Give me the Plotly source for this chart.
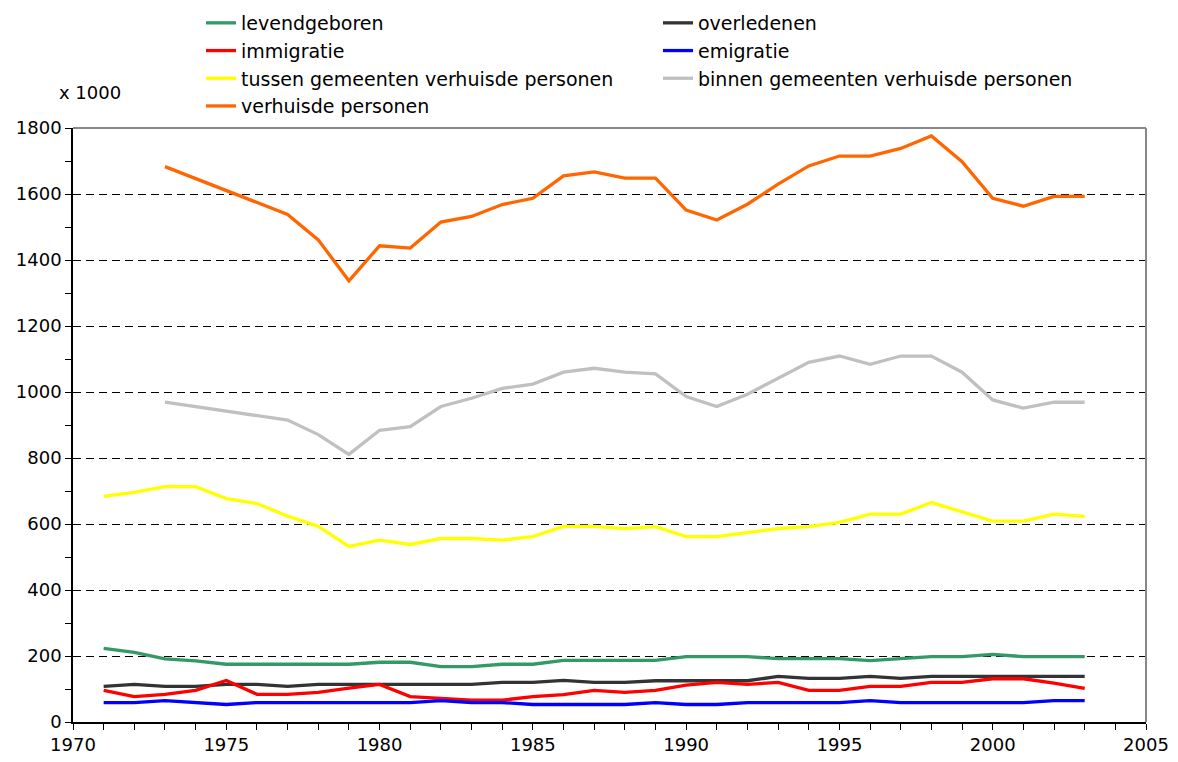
import plotly.graph_objects as go

years = list(range(1971, 2004))

levendgeboren = [223, 211, 191, 185, 175, 175, 175, 175, 175, 181, 181, 168, 168, 175, 175,
                 187, 187, 187, 187, 198, 198, 198, 192, 192, 192, 186, 192, 198, 198, 205,
                 198, 198, 198]
overledenen = [108, 114, 108, 108, 114, 114, 108, 114, 114, 114, 114, 114, 114, 120, 120,
               126, 120, 120, 125, 125, 125, 125, 138, 132, 132, 138, 132, 138, 138, 138,
               138, 138, 138]
immigratie = [96, 77, 84, 96, 126, 84, 84, 90, 103, 114, 77, 72, 66, 66, 77,
              83, 96, 90, 96, 112, 120, 114, 120, 96, 96, 108, 108, 120, 120, 131,
              131, 118, 102]
emigratie = [59, 59, 65, 59, 53, 59, 59, 59, 59, 59, 59, 65, 59, 59, 53,
             53, 53, 53, 59, 53, 53, 59, 59, 59, 59, 65, 59, 59, 59, 59,
             59, 65, 65]
tussen = [684, 696, 713, 713, 677, 662, 624, 593, 532, 551, 538, 556, 556, 551, 562,
          593, 593, 586, 592, 562, 562, 574, 586, 592, 605, 630, 630, 665, 636, 609,
          609, 630, 623]
binnen = [None, None, 969, 956, 942, 929, 915, 871, 811, 884, 895, 956, 981, 1011, 1024,
          1060, 1072, 1060, 1055, 986, 956, 993, 1042, 1090, 1109, 1084, 1109, 1109, 1060, 976,
          951, 969, 969]
verhuisde = [None, None, 1683, 1647, 1611, 1574, 1538, 1461, 1337, 1443, 1436, 1515, 1532, 1568, 1587,
             1655, 1667, 1648, 1648, 1551, 1521, 1569, 1630, 1685, 1715, 1715, 1738, 1776, 1698, 1587,
             1563, 1593, 1593]

series = [
    ("levendgeboren", levendgeboren, "#339966"),
    ("overledenen", overledenen, "#333333"),
    ("immigratie", immigratie, "#FF0000"),
    ("emigratie", emigratie, "#0000FF"),
    ("tussen gemeenten verhuisde personen", tussen, "#FFFF00"),
    ("binnen gemeenten verhuisde personen", binnen, "#C0C0C0"),
    ("verhuisde personen", verhuisde, "#FF6600"),
]

FONT = "DejaVu Sans"

fig = go.Figure()
for name, vals, col in series:
    fig.add_trace(go.Scatter(x=years, y=vals, name=name, mode="lines",
                             line=dict(color=col, width=3.3), connectgaps=False))

# the page places the figure 8px from the top-left corner
W, H = 1162, 746
ml, mr, mt, mb = 65, 24, 120, 32
pw = W - ml - mr
ph = H - mt - mb

fig.update_layout(
    width=W, height=H,
    margin=dict(l=ml, r=mr, t=mt, b=mb, autoexpand=False),
    paper_bgcolor="white", plot_bgcolor="white",
    font=dict(family=FONT, size=18, color="black"),
    showlegend=True,
    legend=dict(
        orientation="h", x=(193 - ml) / pw, xanchor="left",
        y=1 + (mt + 4) / ph, yanchor="top",
        entrywidth=412, entrywidthmode="pixels",
        font=dict(family=FONT, size=19, color="black"),
        bgcolor="rgba(0,0,0,0)", traceorder="normal",
        itemwidth=30,
    ),
    xaxis=dict(
        range=[1970, 2005], dtick=5, tick0=1970, showgrid=False, zeroline=False,
        showline=True, linecolor="black", linewidth=1.5,
        ticks="outside", ticklen=6, tickcolor="black", tickwidth=1,
        minor=dict(dtick=1, ticks="outside", ticklen=6, tickcolor="black", showgrid=False),
        tickfont=dict(family=FONT, size=18),
    ),
    yaxis=dict(
        range=[0, 1800], dtick=200, tick0=0, showgrid=True, gridcolor="black",
        griddash="8px,5px", gridwidth=1, zeroline=False,
        showline=True, linecolor="black", linewidth=1.5,
        ticks="outside", ticklen=6, tickcolor="black", tickwidth=1,
        minor=dict(dtick=100, ticks="outside", ticklen=6, tickcolor="black", showgrid=False),
        tickfont=dict(family=FONT, size=18),
    ),
)

# top and right frame
fig.add_shape(type="line", xref="paper", yref="paper", x0=0, x1=1, y0=1, y1=1,
              line=dict(color="#888888", width=2))
fig.add_shape(type="line", xref="paper", yref="paper", x0=1, x1=1, y0=0, y1=1,
              line=dict(color="#888888", width=2))

fig.add_annotation(text="x 1000", xref="paper", yref="paper",
                   x=(82 - ml) / pw, y=1 + (mt - 84) / ph,
                   xanchor="center", yanchor="middle", showarrow=False,
                   font=dict(family=FONT, size=18, color="black"))

fig.write_html("out.html")
